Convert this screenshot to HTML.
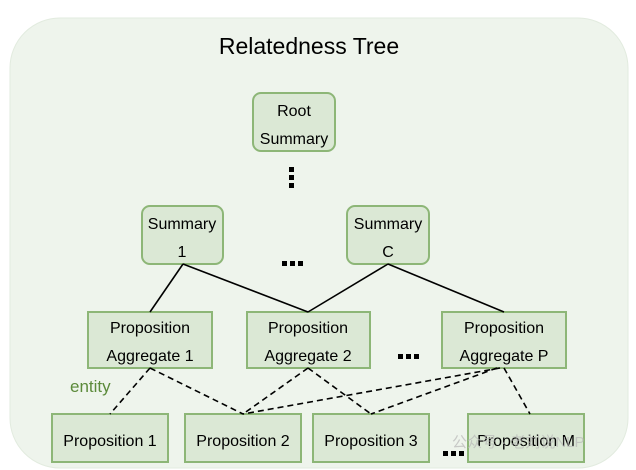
<!DOCTYPE html>
<html><head><meta charset="utf-8"><style>
html,body{margin:0;padding:0;background:#fff;width:636px;height:470px;overflow:hidden}
svg{display:block}
svg text{font-family:"Liberation Sans",Arial,sans-serif}
</style></head><body>
<svg width="636" height="470" viewBox="0 0 636 470" xmlns="http://www.w3.org/2000/svg">
<rect x="10" y="18" width="618" height="450" rx="50" fill="#eef4ec" stroke="#e2ebdf"/>
<text x="309" y="54" font-size="23" text-anchor="middle" fill="#000">Relatedness Tree</text>
<g fill="#dbe8d5" stroke="#8db677" stroke-width="2">
<rect x="253" y="93" width="82" height="58" rx="8"/>
<rect x="142" y="206" width="81" height="58" rx="8"/>
<rect x="347" y="206" width="82" height="58" rx="8"/>
<rect x="88" y="312" width="124" height="56"/>
<rect x="247" y="312" width="123" height="56"/>
<rect x="442" y="312" width="124" height="56"/>
<rect x="52" y="414" width="116" height="48"/>
<rect x="185" y="414" width="116" height="48"/>
<rect x="313" y="414" width="116" height="48"/>
<rect x="468" y="414" width="116" height="48"/>
</g>
<g stroke="#000" stroke-width="1.6" fill="none">
<line x1="183" y1="264" x2="150" y2="312"/>
<line x1="183" y1="264" x2="308" y2="312"/>
<line x1="388" y1="264" x2="308" y2="312"/>
<line x1="388" y1="264" x2="504" y2="312"/>
</g>
<g stroke="#000" stroke-width="1.6" stroke-dasharray="6,4" fill="none">
<line x1="150" y1="368" x2="110" y2="414"/>
<line x1="150" y1="368" x2="243" y2="414"/>
<line x1="308" y1="368" x2="243" y2="414"/>
<line x1="308" y1="368" x2="371" y2="414"/>
<line x1="500" y1="368" x2="243" y2="414"/>
<line x1="497" y1="368" x2="371" y2="414"/>
<line x1="504" y1="368" x2="530" y2="414"/>
</g>
<g font-size="16" text-anchor="middle" fill="#000">
<text x="294" y="116">Root</text><text x="294" y="144">Summary</text>
<text x="182" y="229">Summary</text><text x="182" y="257">1</text>
<text x="388" y="229">Summary</text><text x="388" y="257">C</text>
<text x="150" y="333">Proposition</text><text x="150" y="361">Aggregate 1</text>
<text x="308" y="333">Proposition</text><text x="308" y="361">Aggregate 2</text>
<text x="504" y="333">Proposition</text><text x="504" y="361">Aggregate P</text>
<text x="110" y="446">Proposition 1</text>
<text x="243" y="446">Proposition 2</text>
<text x="371" y="446">Proposition 3</text>
<text x="526" y="446">Proposition M</text>
</g>
<g fill="#000">
<rect x="289" y="167" width="5" height="5"/><rect x="289" y="175" width="5" height="5"/><rect x="289" y="183" width="5" height="5"/>
<rect x="282" y="261" width="5" height="5"/><rect x="290" y="261" width="5" height="5"/><rect x="298" y="261" width="5" height="5"/>
<rect x="398" y="354" width="5" height="5"/><rect x="406" y="354" width="5" height="5"/><rect x="414" y="354" width="5" height="5"/>
<rect x="443" y="451" width="5" height="5"/><rect x="451" y="451" width="5" height="5"/><rect x="459" y="451" width="5" height="5"/>
</g>
<text x="70" y="392" font-size="17" fill="#5b8a3a">entity</text>
<text x="452" y="447" font-size="15" fill="#b8b8b8" opacity="0.7" font-family="Liberation Sans, Noto Sans CJK SC, sans-serif">公众号 · 老刘说NLP</text>
</svg>
</body></html>
